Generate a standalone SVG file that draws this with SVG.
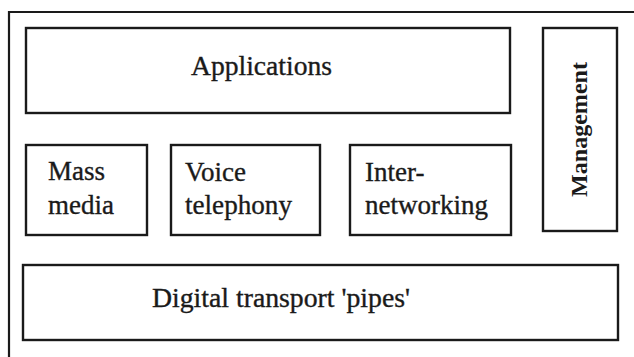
<svg xmlns="http://www.w3.org/2000/svg" width="634" height="357" viewBox="0 0 634 357">
  <style>
    .box { fill: #ffffff; stroke: #1a1a1a; stroke-width: 2.4; }
    .frame { fill: none; stroke: #1a1a1a; stroke-width: 2.2; }
    .lbl { font-family: "Liberation Serif", "Times New Roman", serif; font-size: 27px; fill: #1a1a1a; stroke: #1a1a1a; stroke-width: 0.35; }
    .mgmt { font-family: "Liberation Serif", "Times New Roman", serif; font-size: 24px; font-weight: bold; fill: #1a1a1a; }
  </style>
  <rect width="634" height="357" fill="#ffffff"/>

  <!-- outer frame, running off the right and bottom edges -->
  <path class="frame" d="M9 357 V12 H634"/>

  <g id="applications">
    <rect class="box" x="26" y="28" width="484" height="85"/>
    <text class="lbl" x="261.5" y="75" text-anchor="middle" textLength="141" lengthAdjust="spacingAndGlyphs">Applications</text>
  </g>

  <g id="management">
    <rect class="box" x="543" y="28" width="74" height="203"/>
    <text class="mgmt" transform="translate(587 129.5) rotate(-90)" text-anchor="middle" textLength="135" lengthAdjust="spacingAndGlyphs">Management</text>
  </g>

  <g id="mass-media">
    <rect class="box" x="26" y="145" width="121" height="90"/>
    <text class="lbl" x="48" y="180">Mass</text>
    <text class="lbl" x="48" y="214">media</text>
  </g>

  <g id="voice-telephony">
    <rect class="box" x="171" y="145" width="149" height="90"/>
    <text class="lbl" x="185" y="181">Voice</text>
    <text class="lbl" x="185" y="214" textLength="107" lengthAdjust="spacingAndGlyphs">telephony</text>
  </g>

  <g id="internetworking">
    <rect class="box" x="350" y="145" width="161" height="90"/>
    <text class="lbl" x="365" y="181">Inter-</text>
    <text class="lbl" x="365" y="214" textLength="123" lengthAdjust="spacingAndGlyphs">networking</text>
  </g>

  <g id="digital-transport">
    <rect class="box" x="23" y="265" width="595" height="75"/>
    <text class="lbl" x="281" y="307" text-anchor="middle" textLength="258" lengthAdjust="spacingAndGlyphs">Digital transport 'pipes'</text>
  </g>

  <g id="connectors"></g>
</svg>
